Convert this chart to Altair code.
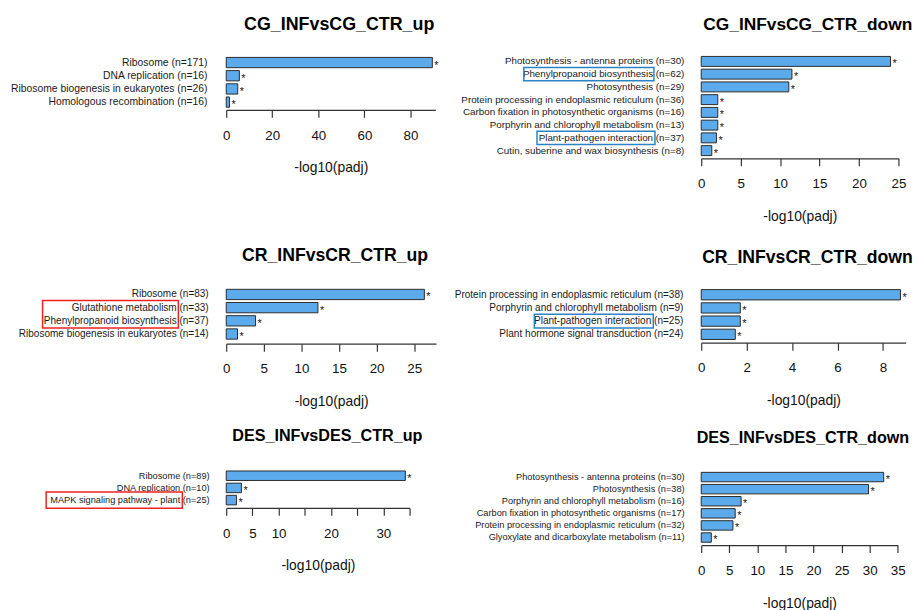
import altair as alt
import pandas as pd

FONT = "Liberation Sans"

# ---------------- data ----------------
cg_up_terms = ["Ribosome", "DNA replication", "Ribosome biogenesis in eukaryotes",
               "Homologous recombination"]
cg_up_n = [171, 16, 26, 16]
cg_up_vals = [89.5, 5.7, 5.0, 1.4]

cg_down_terms = ["Photosynthesis - antenna proteins", "Phenylpropanoid biosynthesis",
                 "Photosynthesis", "Protein processing in endoplasmic reticulum",
                 "Carbon fixation in photosynthetic organisms",
                 "Porphyrin and chlorophyll metabolism", "Plant-pathogen interaction",
                 "Cutin, suberine and wax biosynthesis"]
cg_down_n = [30, 62, 29, 36, 16, 13, 37, 8]
cg_down_vals = [24.0, 11.5, 11.1, 2.1, 2.1, 2.1, 1.93, 1.34]

cr_up_terms = ["Ribosome", "Glutathione metabolism", "Phenylpropanoid biosynthesis",
               "Ribosome biogenesis in eukaryotes"]
cr_up_n = [83, 33, 37, 14]
cr_up_vals = [26.35, 12.2, 3.9, 1.5]

cr_down_terms = ["Protein processing in endoplasmic reticulum",
                 "Porphyrin and chlorophyll metabolism", "Plant-pathogen interaction",
                 "Plant hormone signal transduction"]
cr_down_n = [38, 9, 25, 24]
cr_down_vals = [8.77, 1.72, 1.72, 1.5]

des_up_terms = ["Ribosome", "DNA replication", "MAPK signaling pathway - plant"]
des_up_n = [89, 10, 25]
des_up_vals = [34.2, 2.9, 1.95]

des_down_terms = ["Photosynthesis - antenna proteins", "Photosynthesis",
                  "Porphyrin and chlorophyll metabolism",
                  "Carbon fixation in photosynthetic organisms",
                  "Protein processing in endoplasmic reticulum",
                  "Glyoxylate and dicarboxylate metabolism"]
des_down_n = [30, 38, 16, 17, 32, 11]
des_down_vals = [32.5, 29.8, 7.1, 6.05, 5.65, 1.8]

# highlighted labels: (first term, last term, colour)
cg_down_boxes = [("Phenylpropanoid biosynthesis", "Phenylpropanoid biosynthesis", "blue"),
                 ("Plant-pathogen interaction", "Plant-pathogen interaction", "blue")]
cr_up_boxes = [("Glutathione metabolism", "Phenylpropanoid biosynthesis", "red")]
cr_down_boxes = [("Plant-pathogen interaction", "Plant-pathogen interaction", "blue")]
des_up_boxes = [("MAPK signaling pathway - plant", "MAPK signaling pathway - plant", "red")]

# ---------------- style ----------------
BAR_FILL = "#5BABEC"
BAR_STROKE = "#2a2a2a"
BOX_COLORS = {"blue": "#2B83C6", "red": "#EE2222"}

styles = {
    "p1": dict(w=211, h=55, d0=-0.55, d1=3.585, xmax=90.8, ticks=[0, 20, 40, 60, 80],
               tfs=18, tdx=8.5, toff=22, lfs=10.45, lgap=19, box_x=[], box_pad=0.52),
    "p2": dict(w=199, h=104, d0=-0.478, d1=7.609, xmax=25, ticks=[0, 5, 10, 15, 20, 25],
               tfs=17.5, tdx=8, toff=22, lfs=9.9, lgap=17,
               box_x=[(-179, -47.7), (-165.7, -46.7)], box_pad=0.52),
    "p3": dict(w=211.7, h=66, d0=-1.227, d1=3.735, xmax=27.9, ticks=[0, 5, 10, 15, 20, 25],
               tfs=17.8, tdx=4, toff=14, lfs=10.1, lgap=17.7,
               box_x=[(-185.3, -48.3)], box_pad=0.55),
    "p4": dict(w=206.3, h=65, d0=-1.249, d1=3.638, xmax=9.0, ticks=[0, 2, 4, 6, 8],
               tfs=17.8, tdx=4, toff=12.1, lfs=10.15, lgap=18,
               box_x=[(-168.4, -48.4)], box_pad=0.52),
    "p5": dict(w=185, h=44.7, d0=-0.994, d1=2.64, xmax=35,
               ticks=[0, 5, 10, 15, 20, 25, 30, 35], hide=[15, 25, 35],
               tfs=16.3, tdx=9.5, toff=19.8, lfs=9.3, lgap=16.7,
               box_x=[(-181.7, -44.3)], box_pad=0.67),
    "p6": dict(w=198.3, h=82.3, d0=-1.113, d1=5.633, xmax=35,
               ticks=[0, 5, 10, 15, 20, 25, 30, 35],
               tfs=16.3, tdx=3.5, toff=17.85, lfs=9.3, lgap=16.7, box_x=[], box_pad=0.52),
}


def make_panel(title, terms, ns, vals, boxes, st):
    df = pd.DataFrame({"term": terms, "n": ns, "value": vals})
    df["idx"] = list(range(len(df)))
    df["label"] = [f"{t} (n={n})" for t, n in zip(terms, ns)]
    df["y0"] = df["idx"] - 0.39
    df["y1"] = df["idx"] + 0.39

    ysc = alt.Scale(domain=[st["d0"], st["d1"]], reverse=True, nice=False, zero=False)
    xsc = alt.Scale(domain=[0, st["xmax"]], nice=False, zero=True)

    axis_kw = dict(values=st["ticks"], title="-log10(padj)", grid=False,
                   tickSize=7.5, tickColor="#333", tickWidth=1.2,
                   domainColor="#333", domainWidth=1.2,
                   labelFontSize=13.5, labelColor="#111", labelPadding=18,
                   labelBaseline="middle", labelFlush=False, labelOverlap=False,
                   labelBound=False, titleFontSize=14, titleFontWeight="normal",
                   titleColor="#111", titleY=58.5, titleBaseline="middle")
    if st.get("hide"):
        cond = " || ".join(f"datum.value == {v}" for v in st["hide"])
        axis_kw["labelExpr"] = f"({cond}) ? '' : datum.label"
    xaxis = alt.Axis(**axis_kw)

    base = alt.Chart(df)
    bars = base.mark_rect(fill=BAR_FILL, stroke=BAR_STROKE, strokeWidth=1).encode(
        x=alt.X("value:Q", scale=xsc, axis=xaxis),
        x2=alt.datum(0),
        y=alt.Y("y0:Q", scale=ysc, axis=None),
        y2="y1:Q",
    )
    stars = base.mark_text(text="*", align="left", baseline="middle", dx=2, dy=3,
                           fontSize=11, color="#222").encode(
        x=alt.X("value:Q", scale=xsc, axis=xaxis),
        y=alt.Y("idx:Q", scale=ysc, axis=None),
    )
    labels = base.mark_text(align="right", baseline="middle", fontSize=st["lfs"],
                            color="#1a1a1a").encode(
        x=alt.value(-st["lgap"]),
        y=alt.Y("idx:Q", scale=ysc, axis=None),
        text="label:N",
    )
    layers = [bars, stars, labels]
    pos = {t: i for i, t in enumerate(terms)}
    for (first, last, col), (xl, xr) in zip(boxes, st["box_x"]):
        bdf = pd.DataFrame({"top": [pos[first] - st["box_pad"]],
                            "bot": [pos[last] + st["box_pad"]]})
        box = alt.Chart(bdf).mark_rect(filled=False, stroke=BOX_COLORS[col],
                                       strokeWidth=1.5).encode(
            x=alt.value(xl), x2=alt.value(xr),
            y=alt.Y("top:Q", scale=ysc, axis=None),
            y2="bot:Q",
        )
        layers.append(box)

    return alt.layer(*layers).properties(
        width=st["w"], height=st["h"],
        title=alt.TitleParams(title, fontSize=st["tfs"], fontWeight="bold",
                              anchor="middle", frame="group", dx=st["tdx"],
                              offset=st["toff"], color="#000"),
    )


p1 = make_panel("CG_INFvsCG_CTR_up", cg_up_terms, cg_up_n, cg_up_vals, [], styles["p1"])
p2 = make_panel("CG_INFvsCG_CTR_down", cg_down_terms, cg_down_n, cg_down_vals,
                cg_down_boxes, styles["p2"])
p3 = make_panel("CR_INFvsCR_CTR_up", cr_up_terms, cr_up_n, cr_up_vals, cr_up_boxes,
                styles["p3"])
p4 = make_panel("CR_INFvsCR_CTR_down", cr_down_terms, cr_down_n, cr_down_vals,
                cr_down_boxes, styles["p4"])
p5 = make_panel("DES_INFvsDES_CTR_up", des_up_terms, des_up_n, des_up_vals, des_up_boxes,
                styles["p5"])
p6 = make_panel("DES_INFvsDES_CTR_down", des_down_terms, des_down_n, des_down_vals, [],
                styles["p6"])

chart = alt.concat(
    p1, p2, p3, p4, p5, p6, columns=2, bounds="flush",
    spacing={"row": 121, "column": 267.3},
).properties(
    padding={"left": 2.2, "top": 5, "right": 0, "bottom": 0},
).configure(font=FONT).configure_view(stroke=None)

chart.save("out.html", embed_options={"renderer": "svg", "actions": False})
